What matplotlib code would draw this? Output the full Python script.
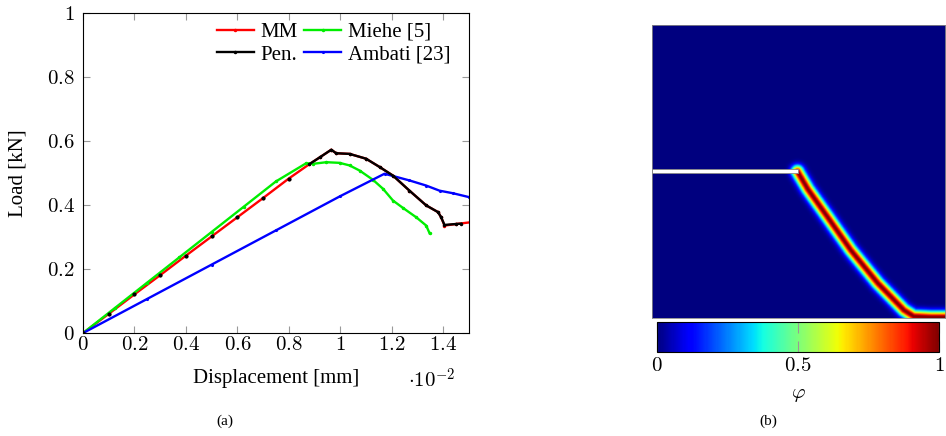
import numpy as np
import matplotlib.pyplot as plt
from matplotlib.patches import Rectangle
from matplotlib.ticker import FixedLocator, FuncFormatter

plt.rcParams['font.family'] = ['Liberation Serif', 'DejaVu Serif']
plt.rcParams['mathtext.fontset'] = 'cm'

# load-displacement curves (displacement in 1e-2 mm, load in kN)
mm_x = [0, 0.1, 0.2, 0.3, 0.4, 0.5, 0.6, 0.7, 0.8, 0.88, 0.92, 0.965, 0.984, 1.036, 1.10, 1.153,
        1.205, 1.269, 1.334, 1.38, 1.392, 1.405, 1.451, 1.503]
mm_y = [0, 0.060, 0.121, 0.181, 0.242, 0.302, 0.362, 0.422, 0.483, 0.528, 0.549, 0.573, 0.562, 0.560,
        0.545, 0.519, 0.492, 0.445, 0.399, 0.378, 0.362, 0.336, 0.341, 0.346]
pen_x = [0, 0.1, 0.2, 0.3, 0.4, 0.5, 0.6, 0.7, 0.8, 0.88, 0.92, 0.965, 0.984, 1.036, 1.10, 1.153,
         1.205, 1.269, 1.334, 1.38, 1.392, 1.405, 1.451, 1.47]
pen_y = [0, 0.060, 0.121, 0.181, 0.242, 0.302, 0.362, 0.422, 0.483, 0.528, 0.549, 0.573, 0.562, 0.560,
         0.545, 0.519, 0.492, 0.445, 0.399, 0.378, 0.362, 0.338, 0.341, 0.342]
miehe_x = [0, 0.125, 0.25, 0.375, 0.5, 0.625, 0.75, 0.868, 0.894, 0.946, 0.997, 1.036, 1.075, 1.127,
           1.166, 1.205, 1.244, 1.295, 1.334, 1.347]
miehe_y = [0, 0.079, 0.158, 0.237, 0.316, 0.395, 0.474, 0.531, 0.529, 0.534, 0.532, 0.524, 0.508,
           0.479, 0.451, 0.414, 0.391, 0.362, 0.336, 0.312]
ambati_x = [0, 0.25, 0.5, 0.75, 1.0, 1.172, 1.269, 1.334, 1.386, 1.438, 1.5]
ambati_y = [0, 0.107, 0.214, 0.321, 0.428, 0.498, 0.477, 0.461, 0.445, 0.437, 0.425]

# crack path in the unit square (notch tip at (0.5, 0.5))
crack_x = [0.495, 0.53, 0.597, 0.676, 0.768, 0.857, 0.89, 0.95, 1.02]
crack_y = [0.5, 0.44, 0.345, 0.232, 0.119, 0.027, 0.006, 0.003, 0.003]

fig = plt.figure(figsize=(9.46, 4.36), dpi=100)

# ---- (a) load-displacement ----
ax = fig.add_axes([0.0877, 0.236, 0.408, 0.734])
ax.plot(mm_x, mm_y, color='red', lw=1.7, marker='.', ms=3, zorder=2, label='MM')
pen_x = np.array(pen_x)
pen_y = np.array(pen_y)
post = pen_x >= 0.88
ax.plot(pen_x[post], pen_y[post], color='black', lw=1.7, marker='.', ms=3, zorder=3, label='Pen.')
ax.plot(pen_x[~post], pen_y[~post], color='black', ls='none', marker='.', ms=4, zorder=4)
ax.plot(miehe_x, miehe_y, color='#00ee00', lw=1.7, marker='.', ms=3, zorder=2, label='Miehe [5]')
ax.plot(ambati_x, ambati_y, color='blue', lw=1.7, marker='.', ms=2.5, zorder=2, label='Ambati [23]')

ax.set_xlim(0, 1.5)
ax.set_ylim(0, 1)
ax.xaxis.set_major_locator(FixedLocator(np.arange(0, 1.45, 0.2)))
ax.yaxis.set_major_locator(FixedLocator(np.arange(0, 1.05, 0.2)))
fmt = FuncFormatter(lambda v, p: '$%g$' % round(v, 2))
ax.xaxis.set_major_formatter(fmt)
ax.yaxis.set_major_formatter(fmt)
ax.tick_params(direction='in', length=5, color='#999999', top=True, right=True, labelsize=15)
ax.tick_params(axis='y', pad=6)
ax.tick_params(axis='x', pad=2)
ax.set_xlabel('Displacement [mm]', fontsize=15, labelpad=10)
ax.set_ylabel('Load [kN]', fontsize=15, labelpad=14)
ax.text(0.965, -0.15, r'$\cdot 10^{-2}$', transform=ax.transAxes, fontsize=15, ha='right', va='center')

ax.legend(ncol=2, frameon=False, fontsize=15,
          loc='upper right', bbox_to_anchor=(1.0, 1.03), handlelength=1.8, handletextpad=0.3,
          columnspacing=0.3, labelspacing=0.15)
fig.text(0.238, 0.025, '(a)', fontsize=11, ha='center')

# ---- (b) phase field ----
n = 400
g = (np.arange(n) + 0.5) / n
X, Y = np.meshgrid(g, g)
d = np.full(X.shape, np.inf)
for i in range(len(crack_x) - 1):
    ax0, ay0, bx, by = crack_x[i], crack_y[i], crack_x[i + 1], crack_y[i + 1]
    vx, vy = bx - ax0, by - ay0
    t = np.clip(((X - ax0) * vx + (Y - ay0) * vy) / (vx * vx + vy * vy), 0, 1)
    d = np.minimum(d, np.hypot(X - ax0 - t * vx, Y - ay0 - t * vy))
phi = np.exp(-(d / 0.02) ** 2)

axb = fig.add_axes([0.689, 0.271, 0.31, 0.672])
im = axb.imshow(phi, cmap='jet', vmin=0, vmax=1, origin='lower', extent=[0, 1, 0, 1],
                interpolation='bilinear', aspect='auto')
axb.add_patch(Rectangle((0, 0.494), 0.5, 0.014, facecolor='white', edgecolor='#888888', lw=0.6))
axb.set_xticks([])
axb.set_yticks([])
for s in axb.spines.values():
    s.set_color('#888888')
    s.set_linewidth(0.6)

cax = fig.add_axes([0.6945, 0.193, 0.298, 0.069])
cb = fig.colorbar(im, cax=cax, orientation='horizontal')
cb.set_ticks([0, 0.5, 1])
cb.ax.xaxis.set_major_formatter(FuncFormatter(lambda v, p: '$%g$' % v))
cb.ax.tick_params(direction='in', length=8, color='#999999', top=True, labelsize=15, pad=4)
cb.outline.set_linewidth(0.8)
cb.set_label(r'$\varphi$', fontsize=15, labelpad=6)
fig.text(0.812, 0.025, '(b)', fontsize=11, ha='center')

fig.savefig('out.png', dpi=100)
